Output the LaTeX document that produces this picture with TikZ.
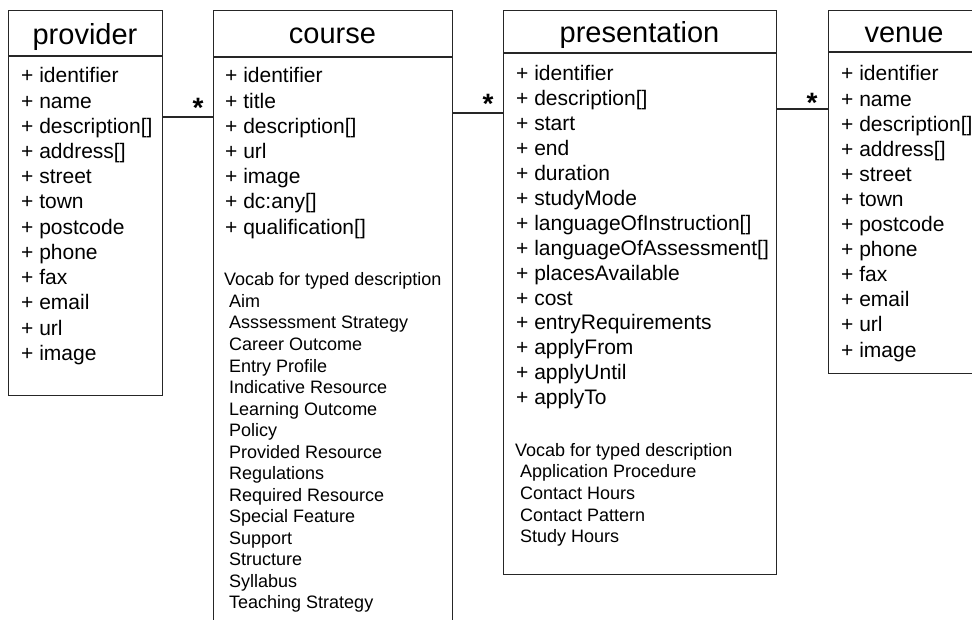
\documentclass[tikz,border=0pt]{standalone}
\usepackage{fontspec}
\setmainfont{Liberation Sans}
\begin{document}
\begin{tikzpicture}[x=1pt,y=-1pt,
  box/.style={draw=black!85, line width=1.1pt, rectangle, inner sep=0pt, anchor=north west},
  ttl/.style={font=\fontsize{29}{34}\selectfont, anchor=base, inner sep=0pt},
  attr/.style={font=\fontsize{21}{25}\selectfont, anchor=base west, inner sep=0pt},
  voc/.style={font=\fontsize{18}{21.5}\selectfont, anchor=base west, inner sep=0pt},
  star/.style={font=\fontsize{28}{30}\selectfont\bfseries, anchor=base, inner sep=0pt},
  conn/.style={draw=black!85, line width=1.1pt}]
\useasboundingbox (0,0) rectangle (972,620);
\clip (0,0) rectangle (972,620);
\fill[white] (0,0) rectangle (972,620);

% boxes
\node[box, minimum width=154pt, minimum height=385pt] (prov) at (8,10) {};
\node[box, minimum width=239pt, minimum height=640pt] (course) at (213,10) {};
\node[box, minimum width=273pt, minimum height=564pt] (pres) at (503,10) {};
\node[box, minimum width=152pt, minimum height=363pt] (venue) at (828,10) {};

% header dividers
\draw[conn] (prov.west |- 0,56) -- (prov.east |- 0,56);
\draw[conn] (course.west |- 0,57) -- (course.east |- 0,57);
\draw[conn] (pres.west |- 0,53) -- (pres.east |- 0,53);
\draw[conn] (venue.west |- 0,52) -- (venue.east |- 0,52);

% titles
\node[ttl] (provt) at (85,45) {provider};
\node[ttl] (courset) at (332.5,44) {course};
\node[ttl] (prest) at (639.5,42.5) {presentation};
\node[ttl] (venuet) at (904,42.5) {venue};

% provider attributes
\foreach \t [count=\i] in {{+ identifier},{+ name},{+ description[]},{+ address[]},{+ street},{+ town},{+ postcode},{+ phone},{+ fax},{+ email},{+ url},{+ image}}
  \node[attr] (pa\i) at (21,{83+25.2*(\i-1)}) {\t};

% course attributes
\foreach \t [count=\i] in {{+ identifier},{+ title},{+ description[]},{+ url},{+ image},{+ dc:any[]},{+ qualification[]}}
  \node[attr] (ca\i) at (225,{83+25.2*(\i-1)}) {\t};
\node[voc] (cv0) at (224,286) {Vocab for typed description};
\foreach \t [count=\i] in {Aim,Asssessment Strategy,Career Outcome,Entry Profile,Indicative Resource,Learning Outcome,Policy,Provided Resource,Regulations,Required Resource,Special Feature,Support,Structure,Syllabus,Teaching Strategy}
  \node[voc] (cv\i) at (229,{286+21.5*\i}) {\t};

% presentation attributes
\foreach \t [count=\i] in {{+ identifier},{+ description[]},{+ start},{+ end},{+ duration},{+ studyMode},{+ languageOfInstruction[]},{+ languageOfAssessment[]},{+ placesAvailable},{+ cost},{+ entryRequirements},{+ applyFrom},{+ applyUntil},{+ applyTo}}
  \node[attr] (pra\i) at (516,{81+24.9*(\i-1)}) {\t};
\node[voc] (pv0) at (515,456) {Vocab for typed description};
\foreach \t [count=\i] in {Application Procedure,Contact Hours,Contact Pattern,Study Hours}
  \node[voc] (pv\i) at (520,{456+21.7*\i}) {\t};

% venue attributes
\foreach \t [count=\i] in {{+ identifier},{+ name},{+ description[]},{+ address[]},{+ street},{+ town},{+ postcode},{+ phone},{+ fax},{+ email},{+ url},{+ image}}
  \node[attr] (va\i) at (841,{81+25.1*(\i-1)}) {\t};

% connectors
\coordinate (y1) at (0,117);
\coordinate (y2) at (0,113);
\coordinate (y3) at (0,109);
\draw[conn] (prov.east |- y1) -- (course.west |- y1);
\draw[conn] (course.east |- y2) -- (pres.west |- y2);
\draw[conn] (pres.east |- y3) -- (venue.west |- y3);

% multiplicities
\node[star] (s1) at (198,118) {*};
\node[star] (s2) at (488,114) {*};
\node[star] (s3) at (812,113) {*};
\end{tikzpicture}
\end{document}
